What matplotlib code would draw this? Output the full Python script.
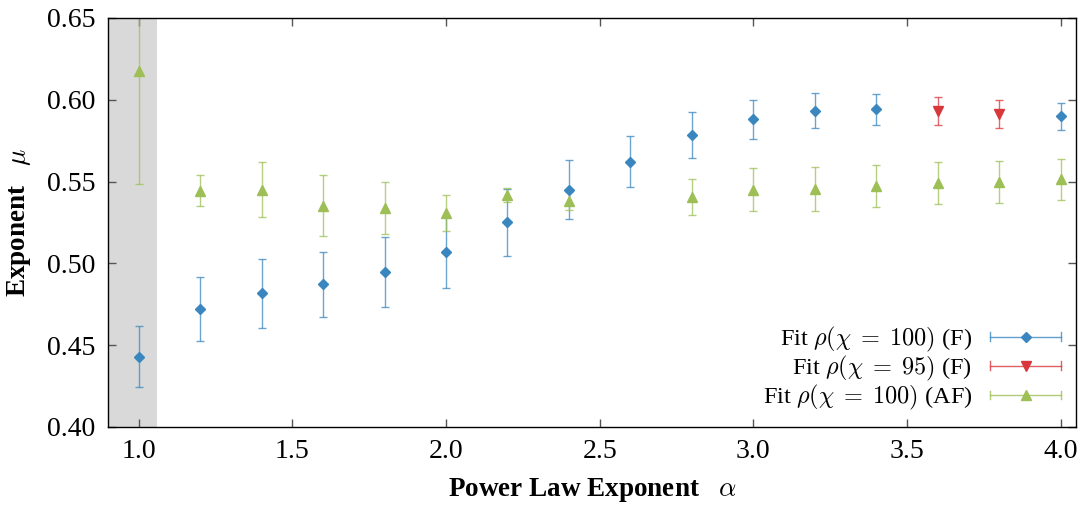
import matplotlib

matplotlib.use("Agg")

import matplotlib.pyplot as plt
from matplotlib.lines import Line2D
from matplotlib.legend_handler import HandlerBase

plt.rcParams["font.family"] = ["Liberation Serif", "DejaVu Serif"]
plt.rcParams["mathtext.fontset"] = "cm"

# Fit rho(chi = 100), ferromagnetic
alpha_f = [1.0, 1.2, 1.4, 1.6, 1.8, 2.0, 2.2, 2.4, 2.6, 2.8, 3.0, 3.2, 3.4, 4.0]
mu_f = [0.443, 0.472, 0.4817, 0.4872, 0.4946, 0.507, 0.5251, 0.5449, 0.5622,
        0.5785, 0.5881, 0.5932, 0.5942, 0.590]
err_f = [0.0185, 0.0197, 0.021, 0.020, 0.0215, 0.022, 0.0204, 0.018, 0.0158,
         0.014, 0.012, 0.0107, 0.0095, 0.0083]

# Fit rho(chi = 95), ferromagnetic
alpha_f95 = [3.6, 3.8]
mu_f95 = [0.5932, 0.5913]
err_f95 = [0.0087, 0.0083]

# Fit rho(chi = 100), antiferromagnetic
alpha_af = [1.0, 1.2, 1.4, 1.6, 1.8, 2.0, 2.2, 2.4, 2.8, 3.0, 3.2, 3.4, 3.6, 3.8, 4.0]
mu_af = [0.6176, 0.5444, 0.5449, 0.5353, 0.534, 0.5306, 0.5418, 0.5381,
         0.5404, 0.5449, 0.5455, 0.5473, 0.5493, 0.5499, 0.5514]
err_af = [0.069, 0.0094, 0.0168, 0.0186, 0.016, 0.011, 0.004, 0.0056,
          0.011, 0.0131, 0.0135, 0.013, 0.0128, 0.0128, 0.0125]

labels = [r"Fit $\rho(\chi\;=\;100)$ (F)",
          r"Fit $\rho(\chi\;=\;95)$ (F)",
          r"Fit $\rho(\chi\;=\;100)$ (AF)"]

blue = "#3a87c0"
red = "#d8373c"
green = "#9dbf55"


class GnuplotHandler(HandlerBase):
    """horizontal errorbar sample: caps at both ends, marker in the middle"""

    def create_artists(self, legend, orig_handle, xdescent, ydescent,
                       width, height, fontsize, trans):
        y = (height - ydescent) / 2
        x0 = -xdescent
        x1 = -xdescent + width
        c = orig_handle.get_color()
        cap = 3.0
        arts = [
            Line2D([x0, x1], [y, y], color=c, lw=1.0, alpha=0.8),
            Line2D([x0, x0], [y - cap, y + cap], color=c, lw=1.0, alpha=0.8),
            Line2D([x1, x1], [y - cap, y + cap], color=c, lw=1.0, alpha=0.8),
            Line2D([(x0 + x1) / 2], [y], color=c, ls="none",
                   marker=orig_handle.get_marker(),
                   markersize=orig_handle.get_markersize()),
        ]
        for a in arts:
            a.set_transform(trans)
        return arts


fig = plt.figure(figsize=(10.81, 5.05), dpi=100)
ax = fig.add_axes([0.0999, 0.1545, 0.8955, 0.81])

ax.axvspan(0.9, 1.058, color="#d9d9d9", lw=0, zorder=0)

series = [
    (alpha_f, mu_f, err_f, blue, "D", 5.0),
    (alpha_f95, mu_f95, err_f95, red, "v", 6.5),
    (alpha_af, mu_af, err_af, green, "^", 6.5),
]
handles = []
for xs, ys, es, col, mk, ms in series:
    ax.errorbar(xs, ys, yerr=es, fmt="none", ecolor=col, elinewidth=1.0,
                capsize=3.0, capthick=1.0, alpha=0.75, zorder=2)
    ax.plot(xs, ys, ls="none", marker=mk, markersize=ms, color=col, zorder=3)
    handles.append(Line2D([], [], color=col, marker=mk, markersize=ms))

ax.set_xlim(0.9, 4.05)
ax.set_ylim(0.40, 0.65)
ax.set_xticks([1.0, 1.5, 2.0, 2.5, 3.0, 3.5, 4.0])
ax.set_yticks([0.40, 0.45, 0.50, 0.55, 0.60, 0.65])
ax.xaxis.set_major_formatter(plt.FormatStrFormatter("%.1f"))
ax.yaxis.set_major_formatter(plt.FormatStrFormatter("%.2f"))
ax.tick_params(direction="in", length=6, width=1, color="#555555",
               top=True, right=True, labelsize=20)
ax.tick_params(axis="x", pad=9)
ax.tick_params(axis="y", pad=9)
for sp in ax.spines.values():
    sp.set_linewidth(1.0)

ax.set_xlabel(r"Power Law Exponent   $\alpha$", fontsize=19.5,
              fontweight="bold", labelpad=8)
ax.set_ylabel(r"Exponent   $\mu$", fontsize=19.5, fontweight="bold",
              labelpad=10)

ax.legend(handles, labels, loc="lower right", bbox_to_anchor=(0.9845, 0.037),
          frameon=False, markerfirst=False, fontsize=17.5, handlelength=2.92,
          handletextpad=0.74, labelspacing=0.0, borderaxespad=0,
          borderpad=0, handler_map={Line2D: GnuplotHandler()})

plt.savefig("out.png", dpi=100)
plt.close()
